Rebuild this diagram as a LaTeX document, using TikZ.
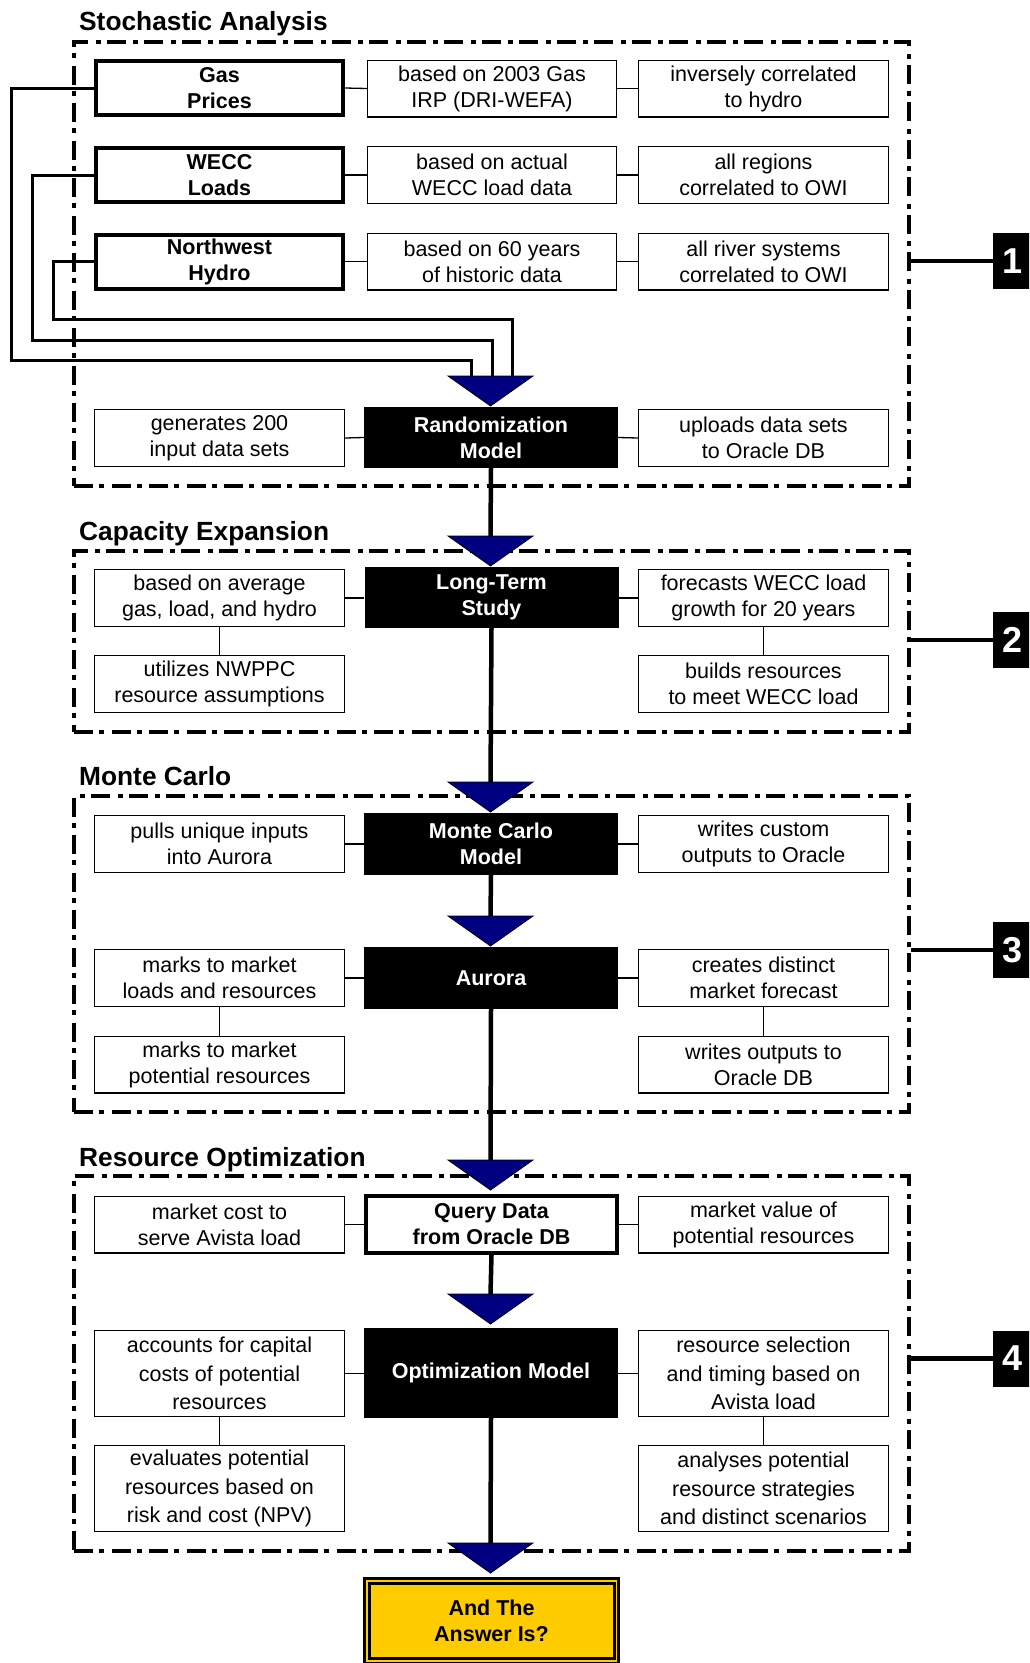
\documentclass[tikz,border=0pt]{standalone}
\usepackage{fontspec}
\setmainfont{Liberation Sans}
\definecolor{navyblue}{RGB}{0,0,128}
\definecolor{answergold}{RGB}{255,204,0}
\begin{document}
\begin{tikzpicture}[x=1pt,y=-1pt,
  base/.style={font=\fontsize{21.5}{26}\selectfont, align=center, inner sep=0pt},
  basebf/.style={font=\fontsize{21.5}{26}\selectfont\bfseries, align=center, inner sep=0pt},
  frame/.style={draw, line width=4pt, dash pattern=on 19pt off 6pt on 5pt off 7.5pt, inner sep=0pt, minimum width=835pt},
  title/.style={font=\fontsize{26.3}{30}\selectfont\bfseries, inner sep=0pt, anchor=base west},
  lbox/.style={base, draw, line width=1.3pt, minimum width=249.7pt, minimum height=56.7pt},
  mbox/.style={base, draw, line width=1.3pt, minimum width=248.7pt, minimum height=56.7pt},
  rbox/.style={base, draw, line width=1.3pt, minimum width=249.7pt, minimum height=56.7pt},
  three/.style={font=\fontsize{21.5}{28.5}\selectfont, minimum height=85.7pt},
  thk/.style={basebf, draw, line width=4pt, minimum width=247pt, minimum height=54pt},
  blk/.style={basebf, fill=black, text=white, minimum width=254pt},
  numbox/.style={fill=black, text=white, font=\fontsize{36}{40}\selectfont\bfseries, inner sep=0pt, minimum width=38pt, minimum height=56pt},
  thinline/.style={line width=1.3pt},
  flow/.style={line width=4.5pt},
  fb/.style={line width=3pt},
  numline/.style={line width=4.5pt},
  tri/.style={fill=navyblue, draw=black, line width=0.8pt, line join=miter}
]
\useasboundingbox (0,0) rectangle (1029,1663);
\clip (0,0) rectangle (1029,1663);

% ---------- section frames ----------
\node[frame, minimum height=444pt] (f1) at (491.5,264) {};
\node[frame, minimum height=181pt] (f2) at (491.5,641.5) {};
\node[frame, minimum height=316pt] (f3) at (491.5,954) {};
\node[frame, minimum height=375pt] (f4) at (491.5,1363.5) {};

% ---------- titles ----------
\node[title] (ttl1) at (79,30) {Stochastic Analysis};
\node[title] (ttl2) at (79,540) {Capacity Expansion};
\node[title] (ttl3) at (79,785) {Monte Carlo};
\node[title] (ttl4) at (79,1166) {Resource Optimization};

% ---------- section 1 ----------
\node[thk] (gas) at (219.5,88) {Gas\\Prices};
\node[thk] (wecc) at (219.5,175) {WECC\\Loads};
\node[thk] (hydro) at (219.5,261.5) {Northwest\\Hydro};
\node[mbox] (g2) at (492,88.5) {based on 2003 Gas\\IRP (DRI-WEFA)};
\node[rbox] (g3) at (763.5,88.5) {inversely correlated\\to hydro};
\node[mbox] (w2) at (492,175) {based on actual\\WECC load data};
\node[rbox] (w3) at (763.5,175) {all regions\\correlated to OWI};
\node[mbox] (h2) at (492,261.5) {based on 60 years\\of historic data};
\node[rbox] (h3) at (763.5,261.5) {all river systems\\correlated to OWI};
\node[blk, minimum height=61pt] (rand) at (491,437.5) {Randomization\\Model};
\node[lbox] (r1) at (219.5,438) {generates 200\\input data sets};
\node[rbox] (r3) at (763.5,438) {uploads data sets\\to Oracle DB};

% ---------- section 2 ----------
\node[blk, minimum height=61pt] (lt) at (491.5,597.5) {Long-Term\\Study};
\node[lbox] (c1) at (219.5,598) {based on average\\gas, load, and hydro};
\node[lbox] (c2) at (219.5,684) {utilizes NWPPC\\resource assumptions};
\node[rbox] (c3) at (763.5,598) {forecasts WECC load\\growth for 20 years};
\node[rbox] (c4) at (763.5,684) {builds resources\\to meet WECC load};

% ---------- section 3 ----------
\node[blk, minimum height=62pt] (mc) at (491,844) {Monte Carlo\\Model};
\node[blk, minimum height=62pt] (au) at (491,978) {Aurora};
\node[lbox] (m1) at (219.5,844) {pulls unique inputs\\into Aurora};
\node[rbox] (m2) at (763.5,844) {writes custom\\outputs to Oracle};
\node[lbox] (m3) at (219.5,978) {marks to market\\loads and resources};
\node[lbox] (m4) at (219.5,1064.5) {marks to market\\potential resources};
\node[rbox] (m5) at (763.5,978) {creates distinct\\market forecast};
\node[rbox] (m6) at (763.5,1064.5) {writes outputs to\\Oracle DB};

% ---------- section 4 ----------
\node[basebf, draw, line width=4pt, minimum width=251pt, minimum height=57pt] (qd) at (491.5,1224.5) {Query Data\\from Oracle DB};
\node[lbox] (o1) at (219.5,1224.5) {market cost to\\serve Avista load};
\node[rbox] (o2) at (763.5,1224.5) {market value of\\potential resources};
\node[blk, minimum height=90pt] (om) at (491,1373) {Optimization Model};
\node[lbox, three] (o3) at (219.5,1373.5) {accounts for capital\\costs of potential\\resources};
\node[lbox, three] (o4) at (219.5,1488.5) {evaluates potential\\resources based on\\risk and cost (NPV)};
\node[rbox, three] (o5) at (763.5,1373.5) {resource selection\\and timing based on\\Avista load};
\node[rbox, three] (o6) at (763.5,1488.5) {analyses potential\\resource strategies\\and distinct scenarios};

% ---------- answer ----------
\node[basebf, fill=answergold, draw=black, line width=3pt, double=answergold, double distance=1.5pt, minimum width=249.5pt, minimum height=80pt] (ans) at (491.5,1621) {And The\\Answer Is?};

% ---------- number boxes ----------
\node[numbox] (n1) at (1012,261) {1};
\node[numbox] (n2) at (1012,640) {2};
\node[numbox] (n3) at (1012,950) {3};
\node[numbox] (n4) at (1012,1358.5) {4};
\draw[numline] (n1.west) -- (n1.west -| f1.east);
\draw[numline] (n2.west) -- (n2.west -| f2.east);
\draw[numline] (n3.west) -- (n3.west -| f3.east);
\draw[numline] (n4.west) -- (n4.west -| f4.east);

% ---------- thin connectors ----------
\draw[thinline] (gas.east) -- (g2.west);
\draw[thinline] (g2.east) -- (g3.west);
\draw[thinline] (wecc.east) -- (w2.west);
\draw[thinline] (w2.east) -- (w3.west);
\draw[thinline] (hydro.east) -- (h2.west);
\draw[thinline] (h2.east) -- (h3.west);
\draw[thinline] (r1.east) -- (rand.west);
\draw[thinline] (rand.east) -- (r3.west);
\draw[thinline] (c1.east) -- (c1.east -| lt.west);
\draw[thinline] (c3.west) -- (c3.west -| lt.east);
\draw[thinline] (c1.south) -- (c2.north);
\draw[thinline] (c3.south) -- (c4.north);
\draw[thinline] (m1.east) -- (m1.east -| mc.west);
\draw[thinline] (m2.west) -- (m2.west -| mc.east);
\draw[thinline] (m3.east) -- (m3.east -| au.west);
\draw[thinline] (m5.west) -- (m5.west -| au.east);
\draw[thinline] (m3.south) -- (m4.north);
\draw[thinline] (m5.south) -- (m6.north);
\draw[thinline] (o1.east) -- (o1.east -| qd.west);
\draw[thinline] (o2.west) -- (o2.west -| qd.east);
\draw[thinline] (o3.east) -- (o3.east -| om.west);
\draw[thinline] (o5.west) -- (o5.west -| om.east);
\draw[thinline] (o3.south) -- (o4.north);
\draw[thinline] (o5.south) -- (o6.north);

% ---------- triangle tops ----------
\coordinate (t1) at (490.5,376);
\coordinate (t2) at (490.5,536);
\coordinate (t3) at (490.5,782);
\coordinate (t4) at (490.5,916);
\coordinate (t5) at (490.5,1160);
\coordinate (t6) at (490.5,1294);
\coordinate (t7) at (490.5,1543);
\coordinate (ga) at (471,376);
\coordinate (wa) at (492,376);
\coordinate (ha) at (512,376);

% ---------- feedback lines ----------
\draw[fb] (gas.west) -- (11,88) |- (471,360) -- (ga);
\draw[fb] (wecc.west) -- (32,175) |- (492,340) -- (wa);
\draw[fb] (hydro.west) -- (53,261.5) |- (512,319) -- (ha);

% ---------- main flow ----------
\draw[flow] (rand.south) -- (t2);
\draw[flow] (lt.south) -- (t3);
\draw[flow] (mc.south) -- (t4);
\draw[flow] (au.south) -- (t5);
\draw[flow] (qd.south) -- (t6);
\draw[flow] (om.south) -- (t7);

% ---------- triangles ----------
\foreach \tp in {t1,t2,t3,t4,t5,t6,t7}{
  \filldraw[tri] (\tp) ++(-42.5,0) -- ++(85,0) -- ++(-42.5,30) -- cycle;
}
\end{tikzpicture}
\end{document}
